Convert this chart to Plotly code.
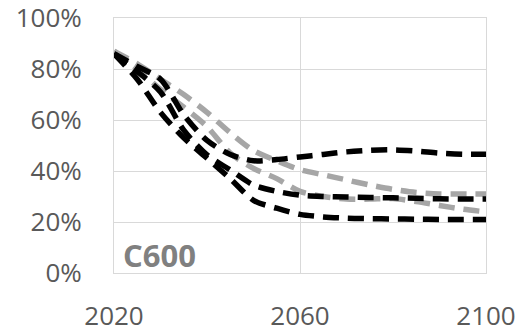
import plotly.graph_objects as go

years = [2020, 2025, 2030, 2035, 2040, 2045, 2050, 2055, 2060, 2065, 2070, 2075, 2080, 2085, 2090, 2095, 2100]

black_top = [86, 81, 76, 62, 52, 46.5, 44, 44.5, 45.5, 46.5, 47.5, 48.1, 48.3, 47.8, 47.0, 46.6, 46.6]
black_mid = [86, 79, 71, 56, 46.3, 40.4, 34.5, 32, 30.5, 30, 29.8, 29.6, 29.5, 29.3, 29.1, 29, 29]
black_low = [86, 76, 63, 53, 45, 37, 28.5, 25.4, 23, 22, 21.5, 21.3, 21.2, 21.1, 21, 21, 21]
gray_up = [87, 82, 76, 70, 63, 55, 48, 44, 40.5, 38.5, 36.5, 34.5, 32.8, 31.6, 31, 31, 31]
gray_low = [87, 80, 72, 65, 57.4, 47, 41, 37, 32, 30, 29, 29, 29.2, 28, 26.5, 25, 24]

x_ticks = [2020, 2060, 2100]
y_ticks = [0, 20, 40, 60, 80, 100]
y_labels = ["0%", "20%", "40%", "60%", "80%", "100%"]

series = [
    ("gray_low", gray_low, "#a6a6a6"),
    ("gray_up", gray_up, "#a6a6a6"),
    ("black_low", black_low, "#000000"),
    ("black_mid", black_mid, "#000000"),
    ("black_top", black_top, "#000000"),
]

fig = go.Figure()
for name, vals, col in series:
    fig.add_trace(go.Scatter(
        x=years, y=vals, mode="lines", name=name,
        line=dict(color=col, width=5.5, dash="16px,9px", shape="spline", smoothing=0.8),
        showlegend=False, hoverinfo="skip"))

grid = "#d9d9d9"
tickfont = dict(family="Open Sans", size=26, color="#595959")

fig.update_layout(
    width=518, height=332,
    margin=dict(l=114, r=32, t=18, b=59),
    paper_bgcolor="white", plot_bgcolor="white",
    xaxis=dict(range=[2020, 2100], tickvals=x_ticks, showgrid=True,
               gridcolor=grid, gridwidth=1, showline=True, linecolor=grid, linewidth=1,
               mirror=True, zeroline=False, tickfont=tickfont, ticks="",
               ticklabelstandoff=20, automargin=False, ticklabeloverflow="allow"),
    yaxis=dict(range=[0, 100], tickvals=y_ticks, ticktext=y_labels,
               showgrid=True, gridcolor=grid, gridwidth=1, showline=True, linecolor=grid,
               linewidth=1, mirror=True, zeroline=False, tickfont=tickfont, ticks="",
               ticklabelstandoff=26, automargin=False, ticklabeloverflow="allow"),
    annotations=[dict(x=2021.6, y=7, xref="x", yref="y", text="<b>C600</b>",
                      showarrow=False, xanchor="left", yanchor="middle",
                      font=dict(family="Open Sans", size=31, color="#808080"))],
)

fig.write_html("out.html", config={"displayModeBar": False},
               post_script="document.body.style.margin='0';document.body.style.overflow='hidden';")
